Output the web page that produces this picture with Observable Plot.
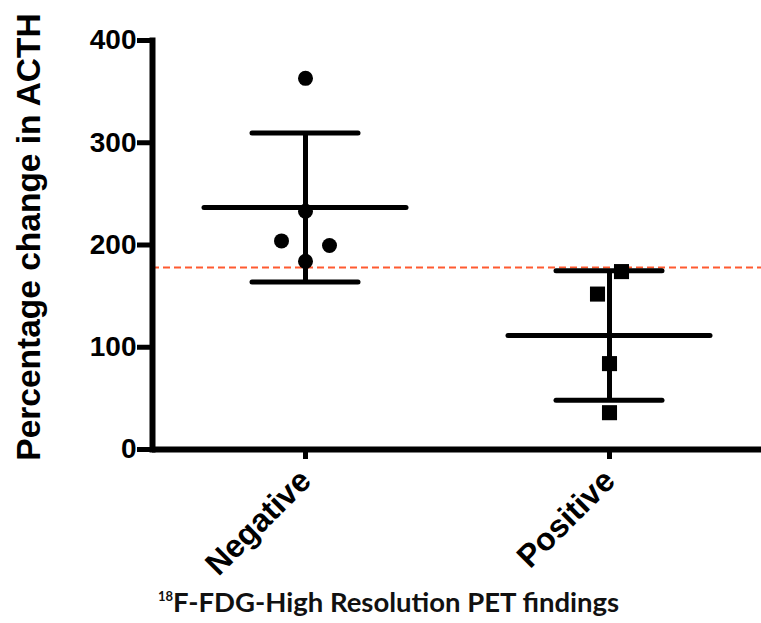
<!DOCTYPE html>
<html>
<head>
<meta charset="utf-8">
<script src="https://cdn.jsdelivr.net/npm/d3@7"></script>
<script src="https://cdn.jsdelivr.net/npm/@observablehq/plot@0.6"></script>
<style>
  html, body { margin: 0; padding: 0; background: #fff; }
  #wrap { position: relative; width: 761px; height: 623px; overflow: hidden; }
  #xtitle {
    position: absolute; left: 158px; top: 588px;
    font-family: Lato, "Open Sans", sans-serif; font-weight: 700;
    font-size: 27.5px; line-height: 1; color: #111; white-space: nowrap;
  }
  #xtitle sup { font-size: 13px; vertical-align: 11px; line-height: 0; }
</style>
</head>
<body>
<div id="wrap">
  <div id="chart"></div>
  <div id="xtitle"><sup>18</sup>F-FDG-High Resolution PET findings</div>
</div>
<script>
// ---- data ----
const groups = ["Negative", "Positive"];
const negativeValues = [363, 233, 204, 199.5, 184];
const negativeSlots = [0, 0, -2, 2, 0];   // side-by-side column slot (scatter spread)
const positiveValues = [174, 152, 84, 36];
const positiveSlots = [1, -1, 0, 0];
const thresholdValue = 178;
const yTicks = [0, 100, 200, 300, 400];

const points = [
  ...negativeValues.map((v, i) => ({group: groups[0], value: v, slot: negativeSlots[i]})),
  ...positiveValues.map((v, i) => ({group: groups[1], value: v, slot: positiveSlots[i]}))
];
const stats = groups.map(g => {
  const vals = points.filter(d => d.group === g).map(d => d.value);
  const m = d3.mean(vals), s = d3.deviation(vals);
  return {group: g, mean: m, lo: m - s, hi: m + s};
});

const ink = "#000";
const font = "'Liberation Sans', Arial, Helvetica, sans-serif";
const slotStep = 12;

const dotMarks = [];
for (const s of [-2, -1, 0, 1, 2]) {
  dotMarks.push(Plot.dot(points.filter(d => d.group === groups[0] && d.slot === s),
    {x: "group", y: "value", r: 7.5, fill: ink, stroke: "none", symbol: "circle", dx: s * slotStep}));
  dotMarks.push(Plot.dot(points.filter(d => d.group === groups[1] && d.slot === s),
    {x: "group", y: "value", r: 8.5, fill: ink, stroke: "none", symbol: "square", dx: s * slotStep}));
}

const chart = Plot.plot({
  width: 761,
  height: 570,
  marginLeft: 152,
  marginRight: 0,
  marginTop: 40,
  marginBottom: 121,
  style: {fontFamily: font, background: "#fff", color: ink, overflow: "visible"},
  x: {domain: groups, padding: 0},
  y: {domain: [0, 400]},
  marks: [
    Plot.ruleY([thresholdValue], {stroke: "#ff5a30", strokeWidth: 2, strokeDasharray: "7,4"}),
    Plot.ruleX(stats, {x: "group", y1: "lo", y2: "hi", stroke: ink, strokeWidth: 5}),
    Plot.tickY(stats, {x: "group", y: "mean", stroke: ink, strokeWidth: 5, strokeLinecap: "round", insetLeft: 51, insetRight: 51}),
    Plot.tickY(stats, {x: "group", y: "hi", stroke: ink, strokeWidth: 5, strokeLinecap: "round", insetLeft: 99, insetRight: 99}),
    Plot.tickY(stats, {x: "group", y: "lo", stroke: ink, strokeWidth: 5, strokeLinecap: "round", insetLeft: 99, insetRight: 99}),
    ...dotMarks,
    Plot.axisY({
      ticks: yTicks, tickSize: 15, tickPadding: 1, strokeWidth: 5,
      fontSize: 28, fontWeight: "bold",
      label: "Percentage change in ACTH", labelAnchor: "center", labelOffset: 136, labelArrow: "none"
    }),
    Plot.axisX({
      tickSize: 10, tickPadding: 16, strokeWidth: 5, tickRotate: -45,
      fontSize: 32, fontWeight: "bold", label: null
    }),
    Plot.frame({anchor: "left", stroke: ink, strokeWidth: 6}),
    Plot.ruleY([0], {stroke: ink, strokeWidth: 6})
  ]
});
chart.querySelectorAll("[aria-label='y-axis label'] text, [aria-label='y-axis label']").forEach(el => {
  el.setAttribute("font-size", "33.5");
  el.setAttribute("font-weight", "bold");
});
chart.querySelectorAll("[aria-label='y-axis label'] text").forEach(el => el.setAttribute("dx", "8"));
document.getElementById("chart").appendChild(chart);
</script>
</body>
</html>
